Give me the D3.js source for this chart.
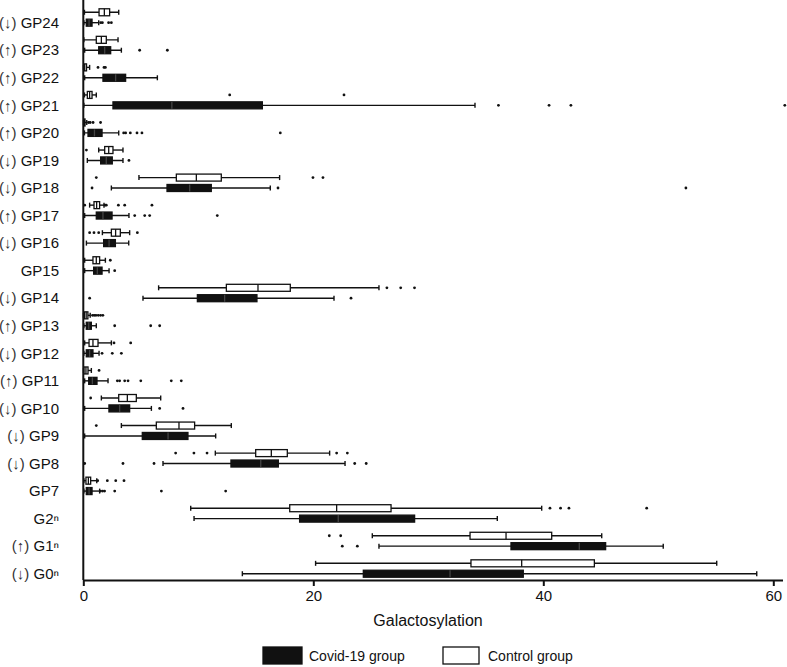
<!DOCTYPE html>
<html lang="en">
<head>
    <meta charset="UTF-8">
    <title>Galactosylation</title>
    <script src="https://d3js.org/d3.v7.min.js"></script>
    <style>
      body { margin: 0; background: #fff; }
      svg { display: block; font-family: "Liberation Sans", Arial, sans-serif; }
    </style>
</head>
<body>
<div id="chart"></div>
<script>
    // rows, top to bottom
    var rows = ["GP24","GP23","GP22","GP21","GP20","GP19","GP18","GP17","GP16","GP15","GP14",
                "GP13","GP12","GP11","GP10","GP9","GP8","GP7","G2\u207F","G1\u207F","G0\u207F"]
    var trend = ["\u2193","\u2191","\u2191","\u2191","\u2191","\u2193","\u2193","\u2191","\u2193","","\u2193",
                 "\u2191","\u2193","\u2191","\u2193","\u2193","\u2193","","","\u2191","\u2193"]

    // [whisker low, q1, median, q3, whisker high]
    var covidStats = [
      [0.05,0.26,0.5,0.76,1.34], [0.12,1.34,1.86,2.38,3.31], [0.12,1.71,2.81,3.68,6.44],
      [0.05,2.58,7.7,15.57,34.06], [0.1,0.41,0.97,1.63,3.08], [0.35,1.51,2.0,2.52,3.45],
      [2.44,7.28,9.25,11.13,16.26], [0.12,1.13,1.71,2.5,3.97], [0.27,1.77,2.24,2.79,3.95],
      [0.12,0.9,1.22,1.63,2.24], [5.19,9.92,12.29,15.1,21.8], [0.05,0.26,0.47,0.7,1.13],
      [0.05,0.26,0.55,0.84,1.37], [0.12,0.47,0.79,1.19,2.15], [0.12,2.23,3.16,4.03,5.92],
      [0.12,5.13,7.37,9.1,11.51], [6.93,12.84,15.43,16.96,22.76], [0.05,0.26,0.5,0.76,1.42],
      [9.63,18.81,22.17,28.81,36.0], [25.71,37.19,43.13,45.42,50.43], [13.83,24.35,31.89,38.26,58.56]
    ]
    var controlStats = [
      [0.1,1.37,1.83,2.29,3.08], [0.05,1.13,1.57,2.0,3.02], [0.02,0.05,0.12,0.28,0.55],
      [0.1,0.35,0.55,0.76,1.13], [0.02,0.05,0.08,0.15,0.3], [1.34,1.86,2.21,2.58,3.45],
      [4.84,8.09,9.83,12.0,17.07], [0.55,0.93,1.16,1.42,1.8], [1.66,2.44,2.81,3.22,4.03],
      [0.12,0.84,1.13,1.42,1.92], [6.55,12.44,15.19,18.0,25.71], [0.02,0.1,0.25,0.4,0.6],
      [0.12,0.5,0.84,1.28,2.44], [0.02,0.06,0.23,0.41,0.7], [1.57,3.08,3.83,4.61,6.73],
      [3.31,6.35,8.32,9.68,12.87], [11.48,14.99,16.35,17.74,21.42], [0.05,0.23,0.44,0.64,1.17],
      [9.34,17.95,22.03,26.76,39.86], [25.13,33.63,36.76,40.73,45.08], [20.2,33.71,38.12,44.44,55.08]
    ]

    var covidOutliers = [
      [1.51,1.66,2.2,2.44], [4.9,7.31], [], [36.1,40.5,42.4,61.0], [3.51,3.68,4.09,4.67,5.1,17.13],
      [3.97], [0.76,16.93,52.4], [4.47,5.34,5.77,11.65], [], [2.73], [0.55,23.28],
      [2.73,5.86,6.64], [1.63,2.52,3.31], [2.96,3.16,3.6,3.89,5.0,7.65,8.52], [6.64,8.67],
      [], [0.12,3.45,6.15,23.6,24.6], [1.5,1.68,1.85,2.73,6.79,12.38], [], [22.52,23.83], []
    ]
    var controlOutliers = [
      [], [], [1.28,1.8,1.92], [12.73,22.67], [0.45,0.6,0.85,1.5], [0.27], [1.13,19.97,20.84],
      [0.12,1.89,2.0,3.05,3.6,5.97], [0.55,0.93,1.34,4.7], [2.35], [26.4,27.6,28.8],
      [0.8,0.95,1.1,1.3,1.5,1.7], [2.67,4.12], [1.37], [0.64], [1.13],
      [8.03,9.62,10.76,22.03,22.96], [1.25,2.09,2.82,3.54], [40.58,41.5,42.23,48.99], [21.39,22.38], []
    ]

    var xTicks = [0, 20, 40, 60]
    var groups = ["Covid-19 group", "Control group"]

    var w = 787, h = 667
    var boxH = 7

    var svg = d3.select("#chart").append("svg").attr("width", w).attr("height", h)
    svg.append("rect").attr("width", w).attr("height", h).attr("fill", "#fff")

    var xScale = d3.scaleLinear().domain([0, 60.8]).range([83.3, 782.5])
    var yScale = d3.scaleBand().domain(rows).range([3.7, 582.3]).padding(0)
    var axisY = 580

    function rowMid(r) { return yScale(r) + yScale.bandwidth() / 2 }

    // both groups in one list
    var boxes = []
    rows.forEach(function(r, i) {
      boxes.push({row: r, s: controlStats[i], out: controlOutliers[i], off: -5.2, fill: "#fff"})
      boxes.push({row: r, s: covidStats[i], out: covidOutliers[i], off: 5.2, fill: "#111"})
    })

    var g = svg.selectAll("g.box").data(boxes).enter().append("g").attr("class", "box")
      .attr("transform", function(d) { return "translate(0," + (rowMid(d.row) + d.off) + ")" })

    // whiskers
    g.append("line")
      .attr("x1", function(d) { return xScale(d.s[0]) })
      .attr("x2", function(d) { return xScale(d.s[4]) })
      .attr("stroke", "#111").attr("stroke-width", 1.4)
    g.selectAll("line.cap").data(function(d) { return [d.s[0], d.s[4]] }).enter().append("line")
      .attr("class", "cap")
      .attr("x1", function(v) { return xScale(v) }).attr("x2", function(v) { return xScale(v) })
      .attr("y1", -2.5).attr("y2", 2.5)
      .attr("stroke", "#111").attr("stroke-width", 1.4)

    // box
    g.append("rect")
      .attr("x", function(d) { return xScale(d.s[1]) })
      .attr("y", -boxH / 2)
      .attr("width", function(d) { return xScale(d.s[3]) - xScale(d.s[1]) })
      .attr("height", boxH)
      .attr("fill", function(d) { return d.fill })
      .attr("stroke", "#111").attr("stroke-width", 1.3)

    // median
    g.append("line")
      .attr("x1", function(d) { return xScale(d.s[2]) })
      .attr("x2", function(d) { return xScale(d.s[2]) })
      .attr("y1", -boxH / 2).attr("y2", boxH / 2)
      .attr("stroke", function(d) { return d.fill == "#fff" ? "#111" : "#444" })
      .attr("stroke-width", 1.3)

    // outliers
    g.selectAll("circle").data(function(d) { return d.out }).enter().append("circle")
      .attr("cx", function(v) { return xScale(v) })
      .attr("cy", 0)
      .attr("r", 1.4)
      .attr("fill", "#111")

    // row labels
    var labels = svg.selectAll("text.row").data(rows).enter().append("text")
      .attr("class", "row")
      .attr("x", 59)
      .attr("y", function(r) { return rowMid(r) + 5.2 })
      .attr("dy", "0.35em")
      .attr("text-anchor", "end")
      .attr("font-size", 15)
      .attr("fill", "#111")
    labels.append("tspan")
      .attr("fill", "#333")
      .text(function(r, i) { return trend[i] ? "(" + trend[i] + ") " : "" })
    labels.append("tspan").text(function(r) { return r })

    // axes
    svg.append("line")
      .attr("x1", xScale(0)).attr("x2", xScale(0))
      .attr("y1", 0).attr("y2", axisY)
      .attr("stroke", "#111").attr("stroke-width", 2)

    var xAxis = svg.append("g")
      .attr("transform", "translate(0," + axisY + ")")
      .call(d3.axisBottom(xScale).tickValues(xTicks).tickSize(6).tickSizeOuter(0).tickPadding(4))
    xAxis.select(".domain").attr("stroke", "#111").attr("stroke-width", 2)
    xAxis.selectAll(".tick line").attr("stroke", "#111").attr("stroke-width", 2)
    xAxis.selectAll(".tick text")
      .attr("font-size", 15).attr("fill", "#111")
      .attr("font-family", "Liberation Sans, Arial, sans-serif")

    svg.append("text")
      .attr("x", 428).attr("y", 620)
      .attr("dy", "0.35em")
      .attr("text-anchor", "middle")
      .attr("font-size", 16).attr("fill", "#111")
      .text("Galactosylation")

    // legend
    var legendX = [263, 443]
    var leg = svg.selectAll("g.legend").data(groups).enter().append("g").attr("class", "legend")
      .attr("transform", function(d, i) { return "translate(" + legendX[i] + ",647)" })
    leg.append("rect")
      .attr("width", function(d, i) { return i == 0 ? 39 : 36 })
      .attr("height", 17)
      .attr("fill", function(d, i) { return i == 0 ? "#111" : "#fff" })
      .attr("stroke", "#111").attr("stroke-width", 1.3)
    leg.append("text")
      .attr("x", function(d, i) { return i == 0 ? 46 : 45 })
      .attr("y", 9).attr("dy", "0.35em")
      .attr("font-size", 14).attr("fill", "#111")
      .text(function(d) { return d })
</script>
</body>
</html>
